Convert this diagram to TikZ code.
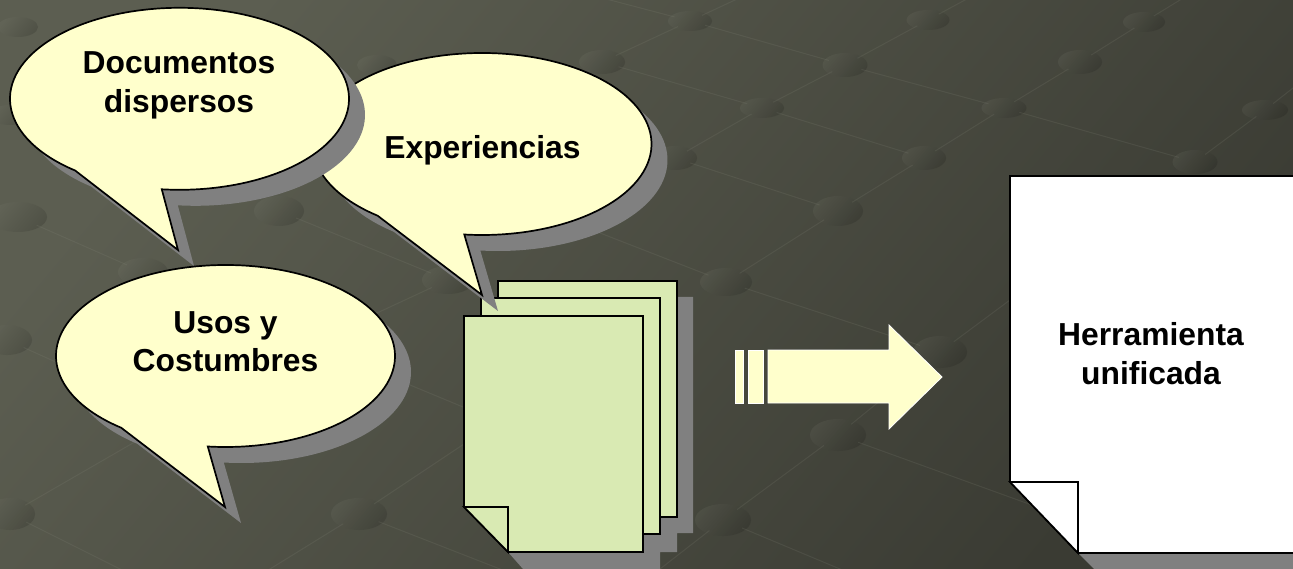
\documentclass[tikz,border=0pt]{standalone}
\usepackage{fontspec}
\setmainfont{Liberation Sans}
\usetikzlibrary{shapes.geometric}
\definecolor{bubblefill}{HTML}{FFFFCC}
\definecolor{pagefill}{HTML}{D9EAB3}
\definecolor{shadowgrey}{HTML}{808080}
\definecolor{bgtl}{HTML}{5C5E51}
\definecolor{bgbr}{HTML}{3A3B33}
\definecolor{spotlight}{HTML}{8A8C7E}
\tikzset{
  spot/.style={ellipse, inner sep=0pt, left color=spotlight, right color=black, shading angle=50, opacity=.13},
  thread/.style={draw=spotlight, opacity=.16, line width=1pt, shorten >=-4pt, shorten <=-4pt},
  outline/.style={draw=black, line width=1.7pt, line join=miter},
  label/.style={font=\bfseries\fontsize{31.8}{38.5}\selectfont, align=center, text=black, inner sep=0pt}
}
\newcommand{\spotat}[5]{\node[spot, minimum width=#4pt, minimum height=#5pt] (#1) at (#2,#3){};}
\newcommand{\talkshape}[4]{(#1+169.5*cos 128,#2+91*sin 128) arc[start angle=128, end angle=456, x radius=169.5, y radius=91] -- (#3,#4) -- cycle}
\newcommand{\talkbubble}[4]{\fill[shadowgrey, shift={(16,16)}] \talkshape{#1}{#2}{#3}{#4};
\filldraw[outline, fill=bubblefill] \talkshape{#1}{#2}{#3}{#4};}
\newcommand{\sheet}[2]{(#1,#2) -- (#1+179,#2) -- (#1+179,#2+236) -- (#1+44,#2+236) -- (#1,#2+191) -- cycle}
\begin{document}
\begin{tikzpicture}[x=1pt, y=-1pt]
\useasboundingbox (0,0) rectangle (1293,569);
\shade[left color=bgtl, right color=bgbr, shading angle=50] (0,0) rectangle (1293,569);
% free ends
\coordinate (e1) at (735,0);
\coordinate (e2) at (965,0);
\coordinate (e3) at (1180,0);
\coordinate (e4) at (1293,88);
\coordinate (e5) at (610,0);
\coordinate (e7) at (1040,508);
\coordinate (e8) at (660,569);
\coordinate (e10) at (270,569);
\coordinate (e11) at (500,569);
\coordinate (e12) at (840,569);
\coordinate (e13) at (120,569);
\coordinate (e14) at (140,400);
\coordinate (e15) at (133,443);
\coordinate (e16) at (377,313);
\coordinate (e17) at (463,407);
\coordinate (e18) at (470,440);
\coordinate (e19) at (600,233);
\coordinate (e20) at (1010,300);
\coordinate (e21) at (410,385);
% spots
\spotat{s1}{690}{21}{44}{20}
\spotat{s2}{928}{20}{43}{20}
\spotat{s3}{1144}{22}{42}{20}
\spotat{s4}{1080}{62}{44}{24}
\spotat{s5}{845}{65}{45}{24}
\spotat{s6}{602}{62}{46}{24}
\spotat{s7}{762}{108}{44}{20}
\spotat{s8}{1004}{108}{45}{20}
\spotat{s9}{1265}{110}{46}{20}
\spotat{s10}{924}{158}{44}{24}
\spotat{s11}{1195}{162}{45}{24}
\spotat{s12}{838}{211}{50}{30}
\spotat{s13}{279}{211}{50}{30}
\spotat{s14}{18}{217}{58}{30}
\spotat{s15}{143}{272}{50}{28}
\spotat{s16}{448}{280}{52}{28}
\spotat{s17}{726}{282}{52}{28}
\spotat{s18}{940}{352}{54}{32}
\spotat{s19}{838}{435}{56}{32}
\spotat{s20}{723}{520}{56}{32}
\spotat{s21}{359}{514}{56}{32}
\spotat{s22}{18}{27}{40}{20}
\spotat{s23}{377}{65}{40}{20}
\spotat{s24}{675}{158}{44}{24}
\spotat{s25}{7}{340}{50}{30}
\spotat{s26}{10}{514}{50}{32}
\spotat{s27}{10}{115}{40}{20}
% threads
\draw[thread] (s1) -- (e1);
\draw[thread] (s1) -- (s6);
\draw[thread] (s2) -- (e2);
\draw[thread] (s2) -- (s5);
\draw[thread] (s5) -- (s7);
\draw[thread] (s7) -- (s24);
\draw[thread] (s3) -- (e3);
\draw[thread] (s3) -- (s4);
\draw[thread] (s4) -- (s8);
\draw[thread] (s8) -- (s10);
\draw[thread] (s10) -- (s12);
\draw[thread] (s12) -- (s17);
\draw[thread] (s9) -- (e4);
\draw[thread] (s9) -- (s11);
\draw[thread] (s1) -- (e5);
\draw[thread] (s1) -- (s5);
\draw[thread] (s5) -- (s8);
\draw[thread] (s8) -- (s11);
\draw[thread] (s6) -- (s7);
\draw[thread] (s7) -- (s10);
\draw[thread] (s24) -- (s12);
\draw[thread] (e19) -- (s17);
\draw[thread] (s17) -- (s18);
\draw[thread] (s18) -- (s19);
\draw[thread] (s18) -- (e20);
\draw[thread] (s19) -- (s20);
\draw[thread] (s20) -- (e8);
\draw[thread] (s19) -- (e7);
\draw[thread] (s20) -- (e12);
\draw[thread] (s14) -- (s15);
\draw[thread] (s13) -- (s16);
\draw[thread] (s16) -- (e16);
\draw[thread] (s21) -- (e18);
\draw[thread] (s21) -- (e10);
\draw[thread] (s21) -- (e11);
\draw[thread] (s25) -- (e14);
\draw[thread] (s26) -- (e13);
\draw[thread] (s26) -- (e15);
\draw[thread] (e21) -- (e17);
% sheets
\fill[shadowgrey] (514,297) -- (693,297) -- (693,533) -- (677,533) -- (677,552) -- (660,552) -- (660,569) -- (523,569) -- (508,552) -- cycle;
\filldraw[outline, fill=pagefill] \sheet{498}{281};
\filldraw[outline, fill=pagefill] \sheet{481}{298};
% bubbles
\talkbubble{482}{144}{482}{295}
\talkbubble{179.5}{98.8}{178}{250}
\talkbubble{225.5}{356}{225}{507}
\filldraw[outline, fill=pagefill] \sheet{464}{316};
\filldraw[outline, fill=pagefill] (464,507) -- (508,507) -- (508,552) -- cycle;
% arrow
\fill[bubblefill, draw=white, line width=.8pt] (768,350) -- (889,350) -- (889,325) -- (942,377) -- (889,429) -- (889,403) -- (768,403) -- cycle;
\fill[bubblefill, draw=white, line width=.8pt] (748,350) rectangle (763,403);
\fill[bubblefill, draw=white, line width=.8pt] (735,350) rectangle (743,403);
% tool
\fill[shadowgrey] (1078,553) -- (1293,553) -- (1293,569) -- (1094,569) -- cycle;
\filldraw[outline, fill=white] (1010,176) -- (1300,176) -- (1300,553) -- (1078,553) -- (1010,482) -- cycle;
\filldraw[outline, fill=white] (1010,482) -- (1078,482) -- (1078,553) -- cycle;
% labels
\node[label] (docs) at (179,85.5){Documentos\\dispersos};
\node[label] (exp) at (482.5,150){Experiencias};
\node[label] (usos) at (225.5,341.5){Usos y\\Costumbres};
\node[label] (tool) at (1151,353.5){Herramienta\\unificada};
\end{tikzpicture}
\end{document}
